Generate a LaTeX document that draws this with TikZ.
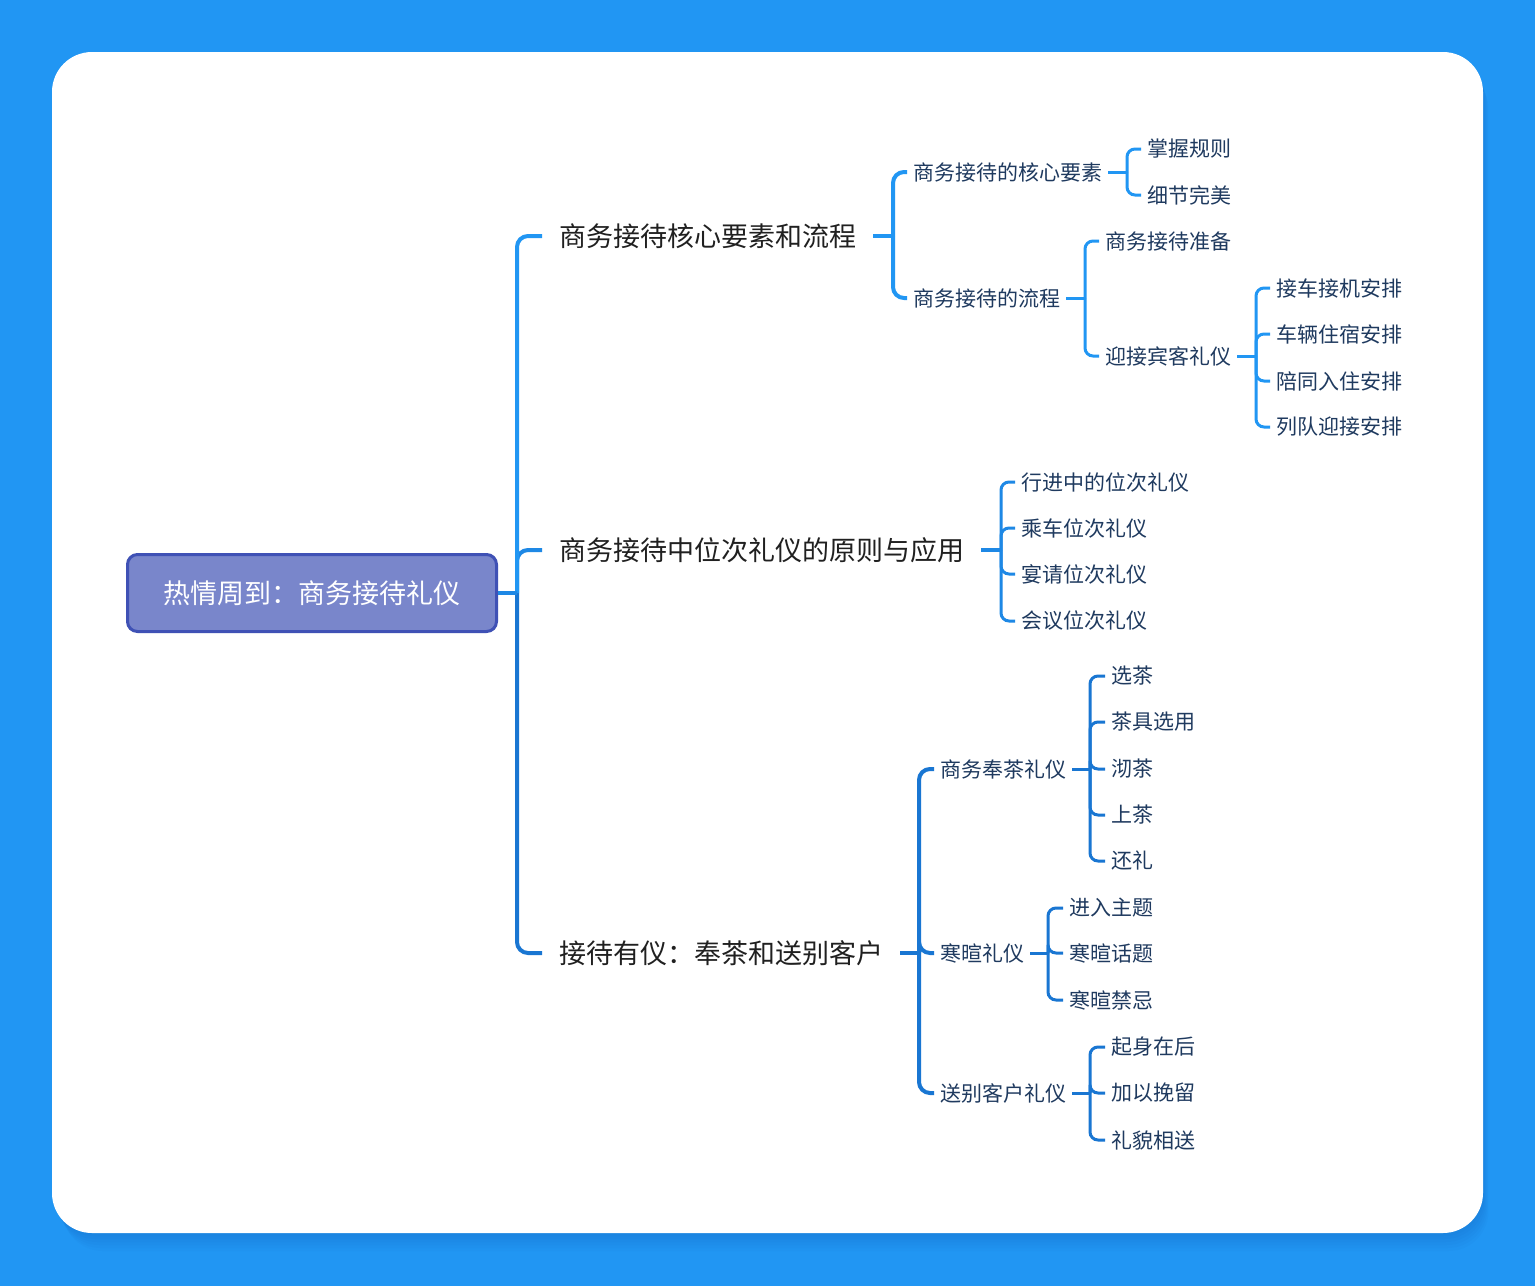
\documentclass[tikz,border=0pt]{standalone}
\usepackage{fontspec}
\setmainfont{Noto Sans CJK SC}
\usepackage{xcolor}
\usetikzlibrary{positioning}

\definecolor{bgblue}{HTML}{2196F3}
\definecolor{shadeblue}{HTML}{1565C0}
\definecolor{linkone}{HTML}{2196F3}
\definecolor{linktwo}{HTML}{1E88E5}
\definecolor{linkthree}{HTML}{1976D2}
\definecolor{rootfill}{HTML}{7986CB}
\definecolor{rootline}{HTML}{3F51B5}
\definecolor{topicink}{HTML}{202020}
\definecolor{leafink}{HTML}{1F3A5F}

\begin{document}
\begin{tikzpicture}[
  x=1pt, y=-1pt,
  root/.style={rectangle, draw=rootline, fill=rootfill, line width=3pt, rounded corners=10pt,
    minimum width=369pt, minimum height=77pt, text=white, font=\fontsize{27}{30}\selectfont},
  topic/.style={anchor=west, inner xsep=17pt, text=topicink, font=\fontsize{27}{30}\selectfont},
  leaf/.style={anchor=west, inner xsep=6pt, text=leafink, font=\fontsize{21}{24}\selectfont},
  bigA/.style={line width=4pt, draw=linkone, rounded corners=11pt},
  bigB/.style={line width=4pt, draw=linktwo, rounded corners=11pt},
  bigC/.style={line width=4pt, draw=linkthree, rounded corners=11pt},
  linkA/.style={line width=3pt, draw=linkone, rounded corners=8pt},
  linkB/.style={line width=3pt, draw=linktwo, rounded corners=8pt},
  linkC/.style={line width=3pt, draw=linkthree, rounded corners=8pt}
]
% page and card
\fill[bgblue] (0,0) rectangle (1535,1286);
\foreach \d in {3,6,9,12,15,18}
  \fill[shadeblue, opacity=0.06, rounded corners=40pt] (52+\d*0.6,52+\d) rectangle (1483+\d*0.3,1233+\d);
\fill[white, rounded corners=40pt] (52,52) rectangle (1483,1233);

% root
\node[root] (root) at (312,593) {热情周到：商务接待礼仪};

% level one
\node[topic] (core) at (542,236) {商务接待核心要素和流程};
\node[topic] (rank) at (542,550) {商务接待中位次礼仪的原则与应用};
\node[topic] (tea) at (542,953) {接待有仪：奉茶和送别客户};

% core elements and process
\node[leaf] (elem) at (907,172) {商务接待的核心要素};
\node[leaf] (rule) at (1141,149) {掌握规则};
\node[leaf] (detail) at (1141,195) {细节完美};
\node[leaf] (flow) at (907,298) {商务接待的流程};
\node[leaf] (prep) at (1099,241) {商务接待准备};
\node[leaf] (greet) at (1099,356) {迎接宾客礼仪};
\node[leaf] (pickup) at (1270,288) {接车接机安排};
\node[leaf] (hotel) at (1270,334) {车辆住宿安排};
\node[leaf] (checkin) at (1270,381) {陪同入住安排};
\node[leaf] (lineup) at (1270,427) {列队迎接安排};

% seating
\node[leaf] (walk) at (1015,482) {行进中的位次礼仪};
\node[leaf] (car) at (1015,528) {乘车位次礼仪};
\node[leaf] (feast) at (1015,574) {宴请位次礼仪};
\node[leaf] (meet) at (1015,621) {会议位次礼仪};

% tea and farewell
\node[leaf] (serve) at (934,769) {商务奉茶礼仪};
\node[leaf] (pick) at (1105,676) {选茶};
\node[leaf] (ware) at (1105,722) {茶具选用};
\node[leaf] (brew) at (1105,769) {沏茶};
\node[leaf] (offer) at (1105,815) {上茶};
\node[leaf] (thank) at (1105,861) {还礼};
\node[leaf] (chat) at (934,953) {寒暄礼仪};
\node[leaf] (topic) at (1063,908) {进入主题};
\node[leaf] (talk) at (1063,953) {寒暄话题};
\node[leaf] (taboo) at (1063,1000) {寒暄禁忌};
\node[leaf] (bye) at (934,1093) {送别客户礼仪};
\node[leaf] (rise) at (1105,1047) {起身在后};
\node[leaf] (stay) at (1105,1093) {加以挽留};
\node[leaf] (send) at (1105,1140) {礼貌相送};

% forks
\coordinate (rootfork) at (517,593);
\coordinate (corefork) at (893,236);
\coordinate (rankfork) at (1001,550);
\coordinate (teafork) at (919,953);
\coordinate (elemfork) at (1127,172);
\coordinate (flowfork) at (1085,298);
\coordinate (greetfork) at (1256,356);
\coordinate (servefork) at (1090,769);
\coordinate (chatfork) at (1048,953);
\coordinate (byefork) at (1090,1093);

% connectors
\draw[bigC] (rootfork) |- (tea.west);
\draw[bigB] (rootfork) |- (rank.west);
\draw[bigA] (rootfork) |- (core.west);
\draw[bigB] (root.east) -- (rootfork);

\draw[bigA] (core.east) -- (corefork);
\foreach \k in {elem, flow} \draw[bigA] (corefork) |- (\k.west);
\draw[linkA] (elem.east) -- (elemfork);
\foreach \k in {rule, detail} \draw[linkA] (elemfork) |- (\k.west);
\draw[linkA] (flow.east) -- (flowfork);
\foreach \k in {prep, greet} \draw[linkA] (flowfork) |- (\k.west);
\draw[linkA] (greet.east) -- (greetfork);
\foreach \k in {pickup, hotel, checkin, lineup} \draw[linkA] (greetfork) |- (\k.west);

\draw[bigB] (rank.east) -- (rankfork);
\foreach \k in {walk, car, feast, meet} \draw[linkB] (rankfork) |- (\k.west);

\draw[bigC] (tea.east) -- (teafork);
\foreach \k in {serve, chat, bye} \draw[bigC] (teafork) |- (\k.west);
\draw[linkC] (serve.east) -- (servefork);
\foreach \k in {pick, ware, brew, offer, thank} \draw[linkC] (servefork) |- (\k.west);
\draw[linkC] (chat.east) -- (chatfork);
\foreach \k in {topic, talk, taboo} \draw[linkC] (chatfork) |- (\k.west);
\draw[linkC] (bye.east) -- (byefork);
\foreach \k in {rise, stay, send} \draw[linkC] (byefork) |- (\k.west);
\end{tikzpicture}
\end{document}
